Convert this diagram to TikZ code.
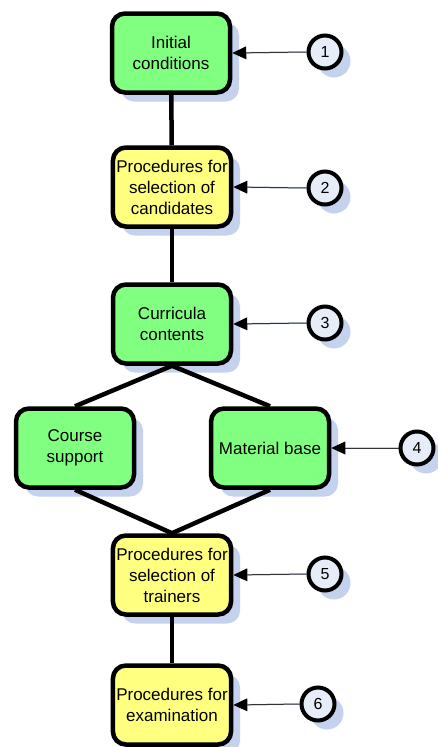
\documentclass[tikz,border=0pt]{standalone}
\usepackage{fontspec}
\setmainfont{Liberation Sans}
\usetikzlibrary{arrows.meta,shadows,backgrounds}

\definecolor{boxgreen}{RGB}{128,255,128}
\definecolor{boxyellow}{RGB}{255,255,128}
\definecolor{markfill}{RGB}{230,236,248}
\definecolor{shadeblue}{RGB}{196,210,238}

\tikzset{
  stepbox/.style={draw, line width=4.5pt, rounded corners=13pt,
    minimum width=118pt, minimum height=79pt, align=center,
    font=\fontsize{17}{21}\selectfont,
    drop shadow={shadow xshift=9pt, shadow yshift=-9pt, fill=shadeblue, opacity=1}},
  marker/.style={circle, draw, line width=4pt, fill=markfill, minimum size=33pt,
    inner sep=0pt, font=\fontsize{16}{18}\selectfont,
    drop shadow={shadow xshift=9pt, shadow yshift=-9pt, fill=shadeblue, opacity=1}},
  link/.style={line width=4.5pt},
  pointer/.style={draw=black!80, line width=1pt,
    -{Triangle[length=14pt,width=13pt,fill=black,line width=0pt]}},
  linkshade/.style={draw=shadeblue, line width=3pt},
  pointershade/.style={draw=shadeblue, line width=1.5pt,
    -{Triangle[length=12pt,width=11pt,line width=0pt]}}
}

\begin{document}
\begin{tikzpicture}[x=1pt,y=-1pt]
  \useasboundingbox (0,0) rectangle (438,747);

  % steps
  \node[stepbox, fill=boxgreen]  (initial)  at (171,53)  {Initial\\conditions};
  \node[stepbox, fill=boxyellow] (cand)     at (172,187) {Procedures for\\selection of\\candidates};
  \node[stepbox, fill=boxgreen]  (curr)     at (172,324) {Curricula\\contents};
  \node[stepbox, fill=boxgreen]  (support)  at (75,448)  {Course\\support};
  \node[stepbox, fill=boxgreen]  (material) at (270,448) {Material base};
  \node[stepbox, fill=boxyellow] (trainers) at (172,575) {Procedures for\\selection of\\trainers};
  \node[stepbox, fill=boxyellow] (exam)     at (172,705) {Procedures for\\examination};

  % numbered markers
  \node[marker] (m1) at (325,52)  {1};
  \node[marker] (m2) at (325,188) {2};
  \node[marker] (m3) at (325,323) {3};
  \node[marker] (m4) at (417,448) {4};
  \node[marker] (m5) at (325,574) {5};
  \node[marker] (m6) at (318,704) {6};

  % shadows of the connectors
  \begin{scope}[on background layer, shift={(8,8)}]
    \draw[linkshade] (initial.south) -- (cand.north);
    \draw[linkshade] (cand.south) -- (curr.north);
    \draw[linkshade] (curr.south) -- (support.north);
    \draw[linkshade] (curr.south) -- (material.north);
    \draw[linkshade] (support.south) -- (trainers.north);
    \draw[linkshade] (material.south) -- (trainers.north);
    \draw[linkshade] (trainers.south) -- (exam.north);
    \foreach \m/\s in {m1/initial, m2/cand, m3/curr, m4/material, m5/trainers, m6/exam}
      \draw[pointershade] (\m.west) -- (\s.east);
  \end{scope}

  % connectors
  \draw[link] (initial) -- (cand);
  \draw[link] (cand) -- (curr);
  \draw[link] (curr.south) -- (support.north);
  \draw[link] (curr.south) -- (material.north);
  \draw[link] (support.south) -- (trainers.north);
  \draw[link] (material.south) -- (trainers.north);
  \draw[link] (trainers) -- (exam);

  % pointers
  \foreach \m/\s in {m1/initial, m2/cand, m3/curr, m4/material, m5/trainers, m6/exam}
    \draw[pointer] (\m.west) -- (\s.east);
\end{tikzpicture}
\end{document}
